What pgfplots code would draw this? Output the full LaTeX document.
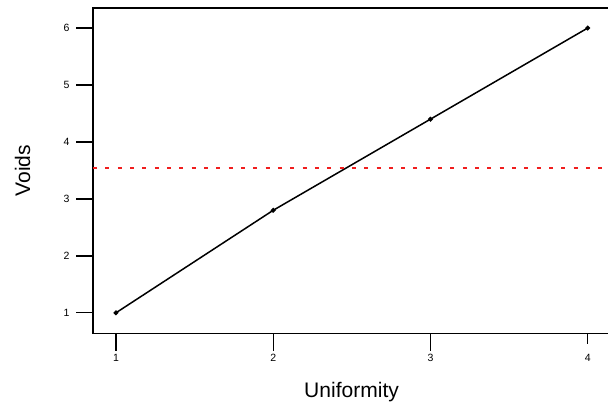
\documentclass[border=0pt]{standalone}
\usepackage{fontspec}
\setmainfont{Liberation Sans}
\usepackage{pgfplots}
\pgfplotsset{compat=1.18}
\definecolor{meanred}{RGB}{240,30,30}
\begin{document}
\begin{tikzpicture}[x=1pt,y=1pt]
\begin{axis}[
  scale only axis,
  width=516pt, height=325pt,
  xmin=0.855, xmax=4.142,
  ymin=0.636, ymax=6.352,
  xtick={1,2,3,4}, ytick={1,2,3,4,5,6},
  tick pos=left,
  tick align=outside,
  major tick length=17pt,
  xtick style={black, line width=1.3pt, shorten <=7pt},
  ytick style={black, line width=1.3pt},
  axis line style={line width=1.4pt},
  tick label style={font=\fontsize{10.5}{12}\selectfont},
  yticklabel style={xshift=-3pt},
  /pgf/number format/assume math mode=true,
  xlabel={Uniformity}, ylabel={Voids},
  label style={font=\fontsize{21}{25}\selectfont},
  xlabel style={at={([yshift=-64pt]axis description cs:0.5,0)}, anchor=base},
  ylabel style={at={([xshift=-63pt]axis description cs:0,0.5)}, anchor=base, rotate=0},
  clip=false,
]
\addplot[color=black, line width=1.5pt, mark=*, mark size=1.6pt] coordinates {
  (1,1) (2,2.8) (3,4.4) (4,6)
};
\addplot[meanred, line width=2pt, dash pattern=on 4pt off 8.3pt] coordinates {
  (0.855,3.55) (4.142,3.55)
};
\coordinate (SW) at (rel axis cs:0,0);
\coordinate (NE) at (rel axis cs:1,1);
\end{axis}
\pgfresetboundingbox
\path[use as bounding box] ([shift={(-93pt,-69pt)}]SW) rectangle ([shift={(-2pt,8pt)}]NE);
\end{tikzpicture}
\end{document}
